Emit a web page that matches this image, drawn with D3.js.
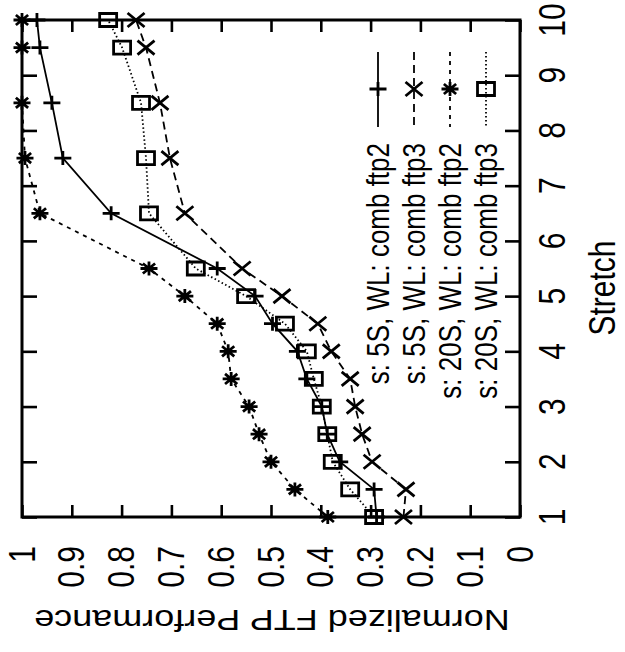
<!DOCTYPE html>
<html>
<head>
<meta charset="utf-8">
<script src="https://cdn.jsdelivr.net/npm/d3@7"></script>
<style>
  html, body { margin: 0; padding: 0; background: #fff; }
  svg { display: block; }
  text { font-family: "Liberation Sans", Arial, Helvetica, sans-serif; fill: #000; }
</style>
</head>
<body>
<svg id="chart" width="625" height="652"></svg>
<script>
// Stretch values at which each configuration was measured
const stretch = [1, 1.5, 2, 2.5, 3, 3.5, 4, 4.5, 5, 5.5, 6.5, 7.5, 8.5, 9.5, 10];

// Normalized FTP performance per configuration
const s5Ftp2  = [0.288, 0.293, 0.362, 0.387, 0.398, 0.428, 0.447, 0.497, 0.532, 0.608, 0.821, 0.918, 0.940, 0.964, 0.970];
const s5Ftp3  = [0.234, 0.229, 0.297, 0.317, 0.331, 0.341, 0.379, 0.406, 0.478, 0.558, 0.673, 0.703, 0.723, 0.751, 0.771];
const s20Ftp2 = [0.386, 0.452, 0.500, 0.524, 0.544, 0.580, 0.586, 0.608, 0.673, 0.745, 0.964, 0.994, 1.000, 1.000, 1.000];
const s20Ftp3 = [0.293, 0.341, 0.376, 0.387, 0.398, 0.414, 0.428, 0.472, 0.550, 0.651, 0.745, 0.751, 0.761, 0.799, 0.827];

const seriesNames = ["s: 5S, WL: comb ftp2", "s: 5S, WL: comb ftp3", "s: 20S, WL: comb ftp2", "s: 20S, WL: comb ftp3"];
const seriesValues = [s5Ftp2, s5Ftp3, s20Ftp2, s20Ftp3];
const seriesMarkers = ["plus", "cross", "star", "box"];
const seriesDashes = [null, "8,5", "4,5", "1.5,2.5"];

const perfTicks = [0, 0.1, 0.2, 0.3, 0.4, 0.5, 0.6, 0.7, 0.8, 0.9, 1];
const perfTickLabels = ["0", "0.1", "0.2", "0.3", "0.4", "0.5", "0.6", "0.7", "0.8", "0.9", "1"];
const stretchTicks = [1, 2, 3, 4, 5, 6, 7, 8, 9, 10];
const stretchTickLabels = ["1", "2", "3", "4", "5", "6", "7", "8", "9", "10"];

// The plot is laid on its side: stretch runs upward, performance runs leftward.
const frame = { left: 22, right: 520, top: 20, bottom: 517 };
const SX = 1.2; // horizontal stretch applied to all lettering

const svg = d3.select("#chart");

const x = d3.scaleLinear().domain([0, 1]).range([frame.right, frame.left]);
const y = d3.scaleLinear().domain([1, 10]).range([frame.bottom, frame.top]);

// Inward ticks on all four sides
const tickStyle = g => {
  g.select(".domain").remove();
  g.selectAll(".tick line").attr("stroke", "#000").attr("stroke-width", 2.6);
  g.selectAll(".tick text").remove();
};
svg.append("g").attr("transform", `translate(0,${frame.bottom})`)
  .call(d3.axisBottom(x).tickValues(perfTicks).tickSize(-12)).call(tickStyle);
svg.append("g").attr("transform", `translate(0,${frame.top})`)
  .call(d3.axisTop(x).tickValues(perfTicks).tickSize(-12)).call(tickStyle);
svg.append("g").attr("transform", `translate(${frame.left},0)`)
  .call(d3.axisLeft(y).tickValues(stretchTicks).tickSize(-15)).call(tickStyle);
svg.append("g").attr("transform", `translate(${frame.right},0)`)
  .call(d3.axisRight(y).tickValues(stretchTicks).tickSize(-15)).call(tickStyle);

svg.append("rect")
  .attr("x", frame.left).attr("y", frame.top)
  .attr("width", frame.right - frame.left).attr("height", frame.bottom - frame.top)
  .attr("fill", "none").attr("stroke", "#000").attr("stroke-width", 3);

// Rotated lettering helper
function label(parent, px, py, angle, txt, size, anchor, dy) {
  return parent.append("text")
    .attr("transform", `translate(${px},${py}) scale(${SX},1) rotate(${angle})`)
    .attr("text-anchor", anchor)
    .attr("dy", dy || 0)
    .style("font-size", size + "px")
    .text(txt);
}

const labels = svg.append("g");
perfTicks.forEach((v, i) => label(labels, x(v), 546, -90, perfTickLabels[i], 30, "end", "0.35em"));
stretchTicks.forEach((s, i) => label(labels, 552, y(s), -90, stretchTickLabels[i], 30, "middle", "0.35em"));
label(labels, 615, 288, -90, "Stretch", 30, "middle");
label(labels, 272, 610, 180, "Normalized FTP Performance", 30, "middle");

// Point glyphs (wider than tall, following the lettering stretch)
function markerPath(type, cx, cy) {
  const hw = 8.5, hh = 7;
  const p = d3.path();
  if (type === "plus" || type === "star") {
    p.moveTo(cx - hw, cy); p.lineTo(cx + hw, cy);
    p.moveTo(cx, cy - hh); p.lineTo(cx, cy + hh);
  }
  if (type === "cross" || type === "star") {
    const a = type === "star" ? 0.72 : 1;
    p.moveTo(cx - hw * a, cy - hh * a); p.lineTo(cx + hw * a, cy + hh * a);
    p.moveTo(cx - hw * a, cy + hh * a); p.lineTo(cx + hw * a, cy - hh * a);
  }
  if (type === "box") {
    p.rect(cx - 8.5, cy - 6.5, 17, 13);
  }
  return p.toString();
}

const line = d3.line().x(d => x(d.v)).y(d => y(d.s));

const plot = svg.append("g");
seriesValues.forEach((vals, k) => {
  const pts = stretch.map((s, i) => ({ s, v: vals[i] }));
  plot.append("path")
    .datum(pts)
    .attr("d", line)
    .attr("fill", "none")
    .attr("stroke", "#000")
    .attr("stroke-width", 1.8)
    .attr("stroke-dasharray", seriesDashes[k]);
  plot.append("g").selectAll("path")
    .data(pts)
    .join("path")
    .attr("d", d => markerPath(seriesMarkers[k], x(d.v), y(d.s)))
    .attr("fill", "none")
    .attr("stroke", "#000")
    .attr("stroke-width", 2.8);
});

// Key, laid out along the upper right of the frame
const keyX = [378, 414, 450, 486];
const key = svg.append("g");
seriesNames.forEach((name, k) => {
  key.append("line")
    .attr("x1", keyX[k]).attr("x2", keyX[k])
    .attr("y1", 52).attr("y2", 127)
    .attr("stroke", "#000").attr("stroke-width", 1.8)
    .attr("stroke-dasharray", seriesDashes[k]);
  key.append("path")
    .attr("d", markerPath(seriesMarkers[k], keyX[k], 89))
    .attr("fill", "none").attr("stroke", "#000").attr("stroke-width", 2.8);
  label(key, keyX[k], 143, -90, name, 26, "end", "0.35em");
});
</script>
</body>
</html>
